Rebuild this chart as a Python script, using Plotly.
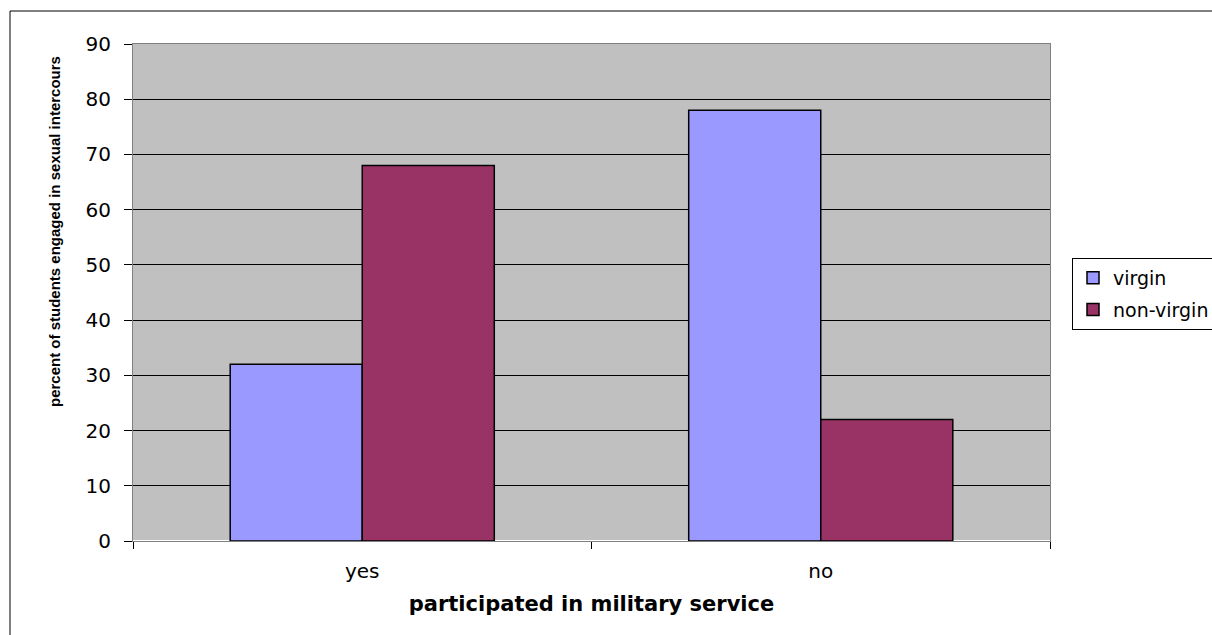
import plotly.graph_objects as go

categories = ["yes", "no"]
virgin = [32, 78]
non_virgin = [68, 22]
y_ticks = [0, 10, 20, 30, 40, 50, 60, 70, 80, 90]

TEXT_FONT = "DejaVu Sans, Liberation Sans, Arial, sans-serif"

fig = go.Figure()
fig.add_trace(go.Bar(name="virgin", x=categories, y=virgin, legendgroup="v",
                     marker=dict(color="#9999FF", line=dict(color="#000000", width=1.5))))
fig.add_trace(go.Bar(name="non-virgin", x=categories, y=non_virgin, legendgroup="nv",
                     marker=dict(color="#993366", line=dict(color="#000000", width=1.5))))

fig.update_layout(
    width=1212, height=635,
    margin=dict(l=133, r=162, t=44, b=94),
    paper_bgcolor="white",
    plot_bgcolor="#C0C0C0",
    barmode="group",
    bargap=0.424,
    bargroupgap=0,
    font=dict(family=TEXT_FONT, color="#000000", size=20),
    legend=dict(xref="container", yref="container",
                x=1072 / 1212, y=(635 - 258) / 635, xanchor="left", yanchor="top",
                bordercolor="#000000", borderwidth=1, bgcolor="white",
                font=dict(size=19), tracegroupgap=4, itemwidth=30),
    showlegend=True,
)

fig.update_xaxes(
    type="category", automargin=False,
    ticks="outside", tickson="boundaries", ticklen=7, tickcolor="#000000",
    showline=True, linecolor="#808080", linewidth=1, mirror=True,
    tickfont=dict(size=20), ticklabelstandoff=12,
    title=dict(text="<b>participated in military service</b>", font=dict(size=21), standoff=14),
)
fig.update_yaxes(
    range=[0, 90], tickvals=y_ticks, automargin=False,
    ticks="outside", ticklen=8, tickcolor="#000000",
    showgrid=True, gridcolor="#000000", gridwidth=1,
    showline=True, linecolor="#808080", linewidth=1, mirror=True,
    tickfont=dict(size=20), ticklabelstandoff=9,
)

# rotated y-axis title
fig.add_annotation(
    text="<b>percent of students engaged in sexual intercours</b>",
    xref="paper", yref="paper", x=-79 / 917, y=309 / 497,
    xanchor="center", yanchor="middle", textangle=-90, showarrow=False,
    font=dict(size=15, family="Liberation Sans, Arial, sans-serif", color="#000000"),
)

# outer chart frame
fig.add_shape(type="rect", xref="paper", yref="paper",
              x0=-123 / 917, x1=1.2, y0=-0.2, y1=(541 - 11) / 497,
              line=dict(color="#000000", width=1), fillcolor="rgba(0,0,0,0)", layer="below")

fig.write_html("out.html")
